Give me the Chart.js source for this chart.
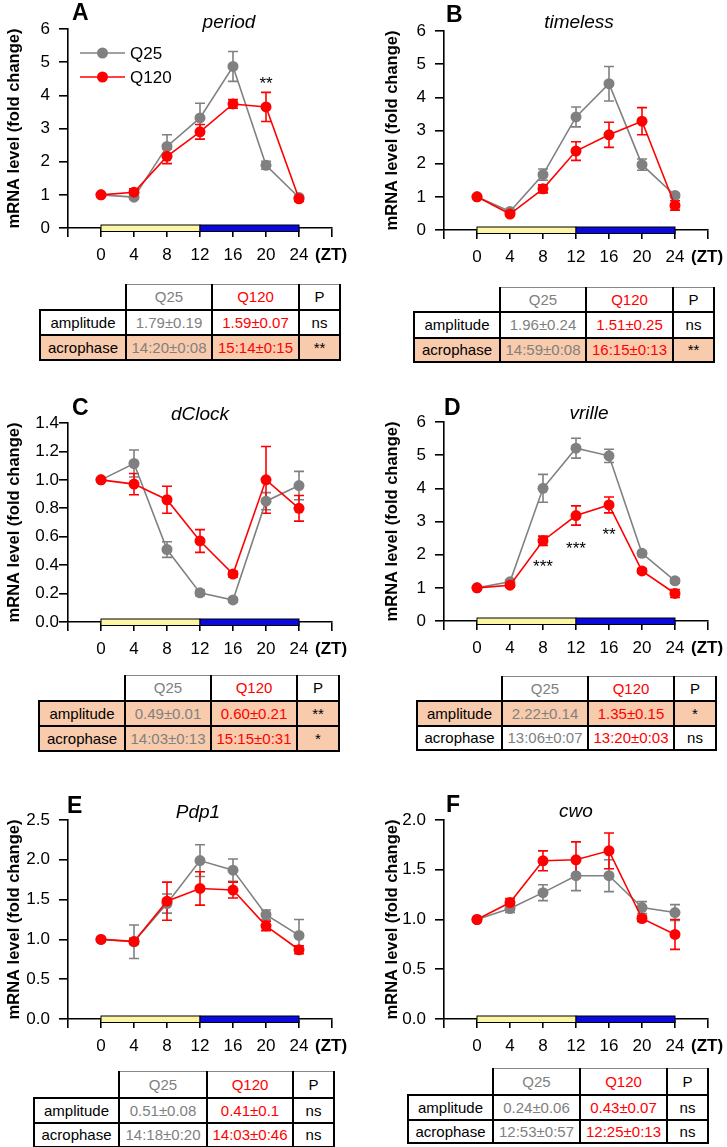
<!DOCTYPE html>
<html>
<head>
<meta charset="utf-8">
<title>Clock gene mRNA levels</title>
<script src="https://cdn.jsdelivr.net/npm/chart.js@4.4.1/dist/chart.umd.min.js"></script>
<style>
  html, body { margin: 0; padding: 0; background: #fff; }
  body { position: relative; width: 727px; height: 1147px; overflow: hidden; font-family: 'Liberation Sans', Arial, sans-serif; }
  canvas { position: absolute; }
  table.stats { position: absolute; border-collapse: collapse; table-layout: fixed; font-size: 15px; color: #000; }
  table.stats td { border: 2px solid #000; padding: 0; text-align: center; white-space: nowrap; overflow: hidden; line-height: 1; }
  table.stats tr.head td { border-top: 1px solid #888; }
  table.stats tr.head td.blank { border: none; }
  table.stats td.q25 { color: #808080; }
  table.stats td.q120 { color: #ff0000; }
  table.stats tr.hl td { background: #f8cbad; }
</style>
</head>
<body>
<canvas id="chartA" width="351" height="270" style="left:0px;top:0px"></canvas>
<canvas id="chartB" width="351" height="270" style="left:376px;top:2px"></canvas>
<canvas id="chartC" width="351" height="270" style="left:0px;top:394px"></canvas>
<canvas id="chartD" width="351" height="270" style="left:376px;top:393px"></canvas>
<canvas id="chartE" width="351" height="270" style="left:0px;top:791px"></canvas>
<canvas id="chartF" width="351" height="270" style="left:376px;top:791px"></canvas>

<script>
// ===== DATA =====
const zt = [0, 4, 8, 12, 16, 20, 24];

// period
const perQ25 = [1.0, 0.93, 2.46, 3.32, 4.87, 1.89, 0.92];
const perQ25Err = [0, 0.06, 0.35, 0.44, 0.45, 0.12, 0.06];
const perQ120 = [1.0, 1.08, 2.16, 2.9, 3.74, 3.65, 0.88];
const perQ120Err = [0, 0.1, 0.22, 0.22, 0.13, 0.44, 0.08];
const perStarX = [20];
const perStarY = [4.5];
const perStarText = ['**'];

// timeless
const timQ25 = [1.0, 0.56, 1.67, 3.41, 4.41, 1.97, 1.04];
const timQ25Err = [0, 0.05, 0.17, 0.3, 0.52, 0.17, 0.06];
const timQ120 = [1.0, 0.48, 1.24, 2.38, 2.87, 3.28, 0.74];
const timQ120Err = [0, 0.05, 0.12, 0.28, 0.38, 0.41, 0.14];

// dClock
const clkQ25 = [1.0, 1.115, 0.51, 0.205, 0.155, 0.85, 0.96];
const clkQ25Err = [0, 0.095, 0.055, 0.02, 0.015, 0.06, 0.1];
const clkQ120 = [1.0, 0.97, 0.86, 0.57, 0.337, 1.0, 0.8];
const clkQ120Err = [0, 0.075, 0.095, 0.08, 0.02, 0.235, 0.09];

// vrille
const vriQ25 = [1.0, 1.18, 4.0, 5.21, 4.98, 2.04, 1.21];
const vriQ25Err = [0, 0.06, 0.42, 0.3, 0.2, 0.06, 0.07];
const vriQ120 = [1.0, 1.08, 2.42, 3.18, 3.5, 1.51, 0.83];
const vriQ120Err = [0, 0.05, 0.14, 0.29, 0.24, 0.07, 0.12];
const vriStarX = [8, 12, 16];
const vriStarY = [1.78, 2.32, 2.74];
const vriStarText = ['***', '***', '**'];

// Pdp1
const pdpQ25 = [1.0, 0.97, 1.45, 1.99, 1.87, 1.31, 1.05];
const pdpQ25Err = [0, 0.21, 0.12, 0.2, 0.14, 0.06, 0.2];
const pdpQ120 = [1.0, 0.975, 1.48, 1.64, 1.62, 1.17, 0.87];
const pdpQ120Err = [0, 0.04, 0.24, 0.21, 0.1, 0.06, 0.05];

// cwo
const cwoQ25 = [1.0, 1.11, 1.27, 1.44, 1.44, 1.12, 1.07];
const cwoQ25Err = [0, 0.04, 0.08, 0.15, 0.16, 0.06, 0.08];
const cwoQ120 = [1.0, 1.17, 1.59, 1.6, 1.69, 1.01, 0.85];
const cwoQ120Err = [0, 0.04, 0.1, 0.18, 0.18, 0.03, 0.15];

// tables: [label, Q25, Q120, P]
const tableHead = ['', 'Q25', 'Q120', 'P'];
const perTable = [['amplitude', '1.79±0.19', '1.59±0.07', 'ns'], ['acrophase', '14:20±0:08', '15:14±0:15', '**']];
const perHighlight = [false, true];
const timTable = [['amplitude', '1.96±0.24', '1.51±0.25', 'ns'], ['acrophase', '14:59±0:08', '16:15±0:13', '**']];
const timHighlight = [false, true];
const clkTable = [['amplitude', '0.49±0.01', '0.60±0.21', '**'], ['acrophase', '14:03±0:13', '15:15±0:31', '*']];
const clkHighlight = [true, true];
const vriTable = [['amplitude', '2.22±0.14', '1.35±0.15', '*'], ['acrophase', '13:06±0:07', '13:20±0:03', 'ns']];
const vriHighlight = [true, false];
const pdpTable = [['amplitude', '0.51±0.08', '0.41±0.1', 'ns'], ['acrophase', '14:18±0:20', '14:03±0:46', 'ns']];
const pdpHighlight = [false, false];
const cwoTable = [['amplitude', '0.24±0.06', '0.43±0.07', 'ns'], ['acrophase', '12:53±0:57', '12:25±0:13', 'ns']];
const cwoHighlight = [false, false];

const GREY = '#808080';
const RED = '#ff0000';
const FONT = '"Liberation Sans", Arial, sans-serif';

// ===== PANELS (layout only) =====
const panels = [
    { canvas: 'chartA', letter: 'A', gene: 'period', q25: perQ25, q25Err: perQ25Err, q120: perQ120, q120Err: perQ120Err,
      yMax: 6, yStep: 1, dec: 0, tickPad: 9, titlePad: 5, letterX: 72, letterY: 20, titleX: 229, titleY: 27.5,
      starX: perStarX, starY: perStarY, starText: perStarText, legend: true,
      table: perTable, hl: perHighlight, tLeft: 39, tTop: 284, cols: [86, 86, 87, 41], rowH: [25, 25, 25] },
    { canvas: 'chartB', letter: 'B', gene: 'timeless', q25: timQ25, q25Err: timQ25Err, q120: timQ120, q120Err: timQ120Err,
      yMax: 6, yStep: 1, dec: 0, tickPad: 9, titlePad: 7, letterX: 70, letterY: 20, titleX: 203, titleY: 26,
      table: timTable, hl: timHighlight, tLeft: 413, tTop: 287, cols: [86, 86, 87, 41], rowH: [24, 26, 24] },
    { canvas: 'chartC', letter: 'C', gene: 'dClock', q25: clkQ25, q25Err: clkQ25Err, q120: clkQ120, q120Err: clkQ120Err,
      yMax: 1.4, yStep: 0.2, dec: 1, tickPad: 0, titlePad: 5, letterX: 72, letterY: 21, titleX: 200, titleY: 25.5,
      table: clkTable, hl: clkHighlight, tLeft: 38, tTop: 675, cols: [86, 86, 86, 42], rowH: [25, 25, 25] },
    { canvas: 'chartD', letter: 'D', gene: 'vrille', q25: vriQ25, q25Err: vriQ25Err, q120: vriQ120, q120Err: vriQ120Err,
      yMax: 6, yStep: 1, dec: 0, tickPad: 9, titlePad: 7, letterX: 68, letterY: 22, titleX: 213, titleY: 26,
      starX: vriStarX, starY: vriStarY, starText: vriStarText,
      table: vriTable, hl: vriHighlight, tLeft: 416, tTop: 676, cols: [85, 86, 86, 42], rowH: [24, 25, 24] },
    { canvas: 'chartE', letter: 'E', gene: 'Pdp1', q25: pdpQ25, q25Err: pdpQ25Err, q120: pdpQ120, q120Err: pdpQ120Err,
      yMax: 2.5, yStep: 0.5, dec: 1, tickPad: 9, titlePad: 5, letterX: 67, letterY: 22, titleX: 198, titleY: 27,
      table: pdpTable, hl: pdpHighlight, tLeft: 33, tTop: 1071, cols: [85, 88, 86, 41], rowH: [26, 25, 24] },
    { canvas: 'chartF', letter: 'F', gene: 'cwo', q25: cwoQ25, q25Err: cwoQ25Err, q120: cwoQ120, q120Err: cwoQ120Err,
      yMax: 2.0, yStep: 0.5, dec: 1, tickPad: 9, titlePad: 7, letterX: 70, letterY: 21, titleX: 200, titleY: 26,
      table: cwoTable, hl: cwoHighlight, tLeft: 407, tTop: 1068, cols: [85, 87, 87, 41], rowH: [26, 25, 23] }
];

// ===== PLUGINS =====
// light/dark bar sitting on the x axis (ZT0-12 light, ZT12-24 dark)
const lightDark = {
    id: 'lightDark',
    beforeDatasetsDraw(chart) {
        const { ctx, chartArea, scales } = chart;
        const x0 = scales.x.getPixelForValue(0);
        const x12 = scales.x.getPixelForValue(12);
        const x24 = scales.x.getPixelForValue(24);
        const top = chartArea.bottom - 3;
        ctx.save();
        ctx.lineWidth = 1;
        ctx.strokeStyle = '#000';
        ctx.fillStyle = '#fbf6a3';
        ctx.fillRect(x0, top, x12 - x0, 6.5);
        ctx.strokeRect(x0, top, x12 - x0, 6.5);
        ctx.fillStyle = '#0a0ade';
        ctx.fillRect(x12, top, x24 - x12, 6.5);
        ctx.strokeRect(x12, top, x24 - x12, 6.5);
        ctx.restore();
    }
};

// SEM error bars
const errorBars = {
    id: 'errorBars',
    beforeDatasetsDraw(chart) {
        const { ctx, scales } = chart;
        chart.data.datasets.forEach((ds, i) => {
            const meta = chart.getDatasetMeta(i);
            ctx.save();
            ctx.strokeStyle = ds.borderColor;
            ctx.lineWidth = 1.6;
            meta.data.forEach((pt, j) => {
                const e = ds.errors[j];
                if (!e) return;
                const v = ds.data[j].y;
                const top = scales.y.getPixelForValue(v + e);
                const bot = scales.y.getPixelForValue(v - e);
                ctx.beginPath();
                ctx.moveTo(pt.x, top); ctx.lineTo(pt.x, bot);
                ctx.moveTo(pt.x - 5, top); ctx.lineTo(pt.x + 5, top);
                ctx.moveTo(pt.x - 5, bot); ctx.lineTo(pt.x + 5, bot);
                ctx.stroke();
            });
            ctx.restore();
        });
    }
};

// panel letter, gene name, (ZT), stars and legend
const panelText = {
    id: 'panelText',
    afterDraw(chart, args, p) {
        const { ctx, chartArea, scales } = chart;
        ctx.save();
        ctx.fillStyle = '#000';
        ctx.textBaseline = 'alphabetic';
        ctx.textAlign = 'left';
        ctx.font = 'bold 23px ' + FONT;
        ctx.fillText(p.letter, p.letterX, p.letterY);

        ctx.textAlign = 'center';
        ctx.font = 'italic 19px ' + FONT;
        ctx.fillText(p.gene, p.titleX, p.titleY);

        ctx.textAlign = 'left';
        ctx.textBaseline = 'middle';
        ctx.font = 'bold 17px ' + FONT;
        ctx.fillText('(ZT)', scales.x.getPixelForValue(24) + 16, chartArea.bottom + 27);

        if (p.starX) {
            ctx.textAlign = 'center';
            ctx.textBaseline = 'alphabetic';
            ctx.font = '17px ' + FONT;
            p.starX.forEach((sx, k) => {
                ctx.fillText(p.starText[k], scales.x.getPixelForValue(sx), scales.y.getPixelForValue(p.starY[k]) + 10);
            });
        }

        if (p.legend) {
            const items = [['Q25', GREY], ['Q120', RED]];
            items.forEach((it, k) => {
                const ly = chartArea.top + 24 + k * 24;
                const lx = chartArea.left + 12;
                ctx.strokeStyle = it[1];
                ctx.fillStyle = it[1];
                ctx.lineWidth = 1.6;
                ctx.beginPath();
                ctx.moveTo(lx, ly); ctx.lineTo(lx + 45, ly);
                ctx.stroke();
                ctx.beginPath();
                ctx.arc(lx + 22.5, ly, 5.5, 0, Math.PI * 2);
                ctx.fill();
                ctx.fillStyle = '#000';
                ctx.textAlign = 'left';
                ctx.textBaseline = 'middle';
                ctx.font = '17px ' + FONT;
                ctx.fillText(it[0], lx + 50, ly + 1);
            });
        }
        ctx.restore();
    }
};

function toPoints(values) {
    return zt.map((x, i) => ({ x: x, y: values[i] }));
}

function makeChart(p) {
    const axisCommon = {
        border: { display: true, color: '#000', width: 1.6 },
        grid: { drawOnChartArea: false, drawTicks: true, tickLength: 9, color: '#000', lineWidth: 1.6 }
    };
    new Chart(document.getElementById(p.canvas), {
        type: 'line',
        data: {
            datasets: [
                { label: 'Q25', data: toPoints(p.q25), errors: p.q25Err, order: 2,
                  borderColor: GREY, backgroundColor: GREY, borderWidth: 1.6,
                  pointRadius: 5.5, pointBorderWidth: 0, pointBackgroundColor: GREY, tension: 0, clip: false },
                { label: 'Q120', data: toPoints(p.q120), errors: p.q120Err, order: 1,
                  borderColor: RED, backgroundColor: RED, borderWidth: 1.6,
                  pointRadius: 5.5, pointBorderWidth: 0, pointBackgroundColor: RED, tension: 0, clip: false }
            ]
        },
        options: {
            responsive: false,
            animation: false,
            events: [],
            layout: { padding: { left: 0, top: 29, right: 19, bottom: 0 } },
            plugins: {
                legend: { display: false },
                tooltip: { enabled: false },
                panelText: p
            },
            scales: {
                x: Object.assign({}, axisCommon, {
                    type: 'linear',
                    min: -4,
                    max: 28,
                    afterFit: s => { s.height = 42; },
                    ticks: {
                        stepSize: 4, autoSkip: false, maxRotation: 0, padding: 8, color: '#000',
                        font: { size: 17, family: FONT },
                        callback: v => (v < 0 || v > 24) ? '' : v
                    }
                }),
                y: Object.assign({}, axisCommon, {
                    min: 0,
                    max: p.yMax,
                    afterFit: s => { s.width = 68; },
                    ticks: {
                        stepSize: p.yStep, padding: p.tickPad, color: '#000',
                        font: { size: 17, family: FONT },
                        callback: v => Number(v).toFixed(p.dec)
                    },
                    title: {
                        display: true, text: 'mRNA level (fold change)', color: '#000',
                        font: { size: 16.5, weight: 'bold', family: FONT },
                        padding: { top: p.titlePad, bottom: 0 }
                    }
                })
            }
        },
        plugins: [lightDark, errorBars, panelText]
    });
}

function makeTable(p) {
    const t = document.createElement('table');
    t.className = 'stats';
    t.style.left = p.tLeft + 'px';
    t.style.top = p.tTop + 'px';
    const cg = document.createElement('colgroup');
    p.cols.forEach(w => {
        const c = document.createElement('col');
        c.style.width = w + 'px';
        cg.appendChild(c);
    });
    t.appendChild(cg);
    const cls = ['', 'q25', 'q120', ''];
    const rows = [tableHead].concat(p.table);
    rows.forEach((r, ri) => {
        const tr = document.createElement('tr');
        tr.style.height = p.rowH[ri] + 'px';
        if (ri === 0) tr.className = 'head';
        else if (p.hl[ri - 1]) tr.className = 'hl';
        r.forEach((txt, ci) => {
            const td = document.createElement('td');
            td.textContent = txt;
            if (ri === 0 && ci === 0) td.className = 'blank';
            else if (cls[ci]) td.className = cls[ci];
            tr.appendChild(td);
        });
        t.appendChild(tr);
    });
    document.body.appendChild(t);
}

Chart.defaults.font.family = FONT;
panels.forEach(p => {
    makeChart(p);
    makeTable(p);
});
</script>
</body>
</html>
